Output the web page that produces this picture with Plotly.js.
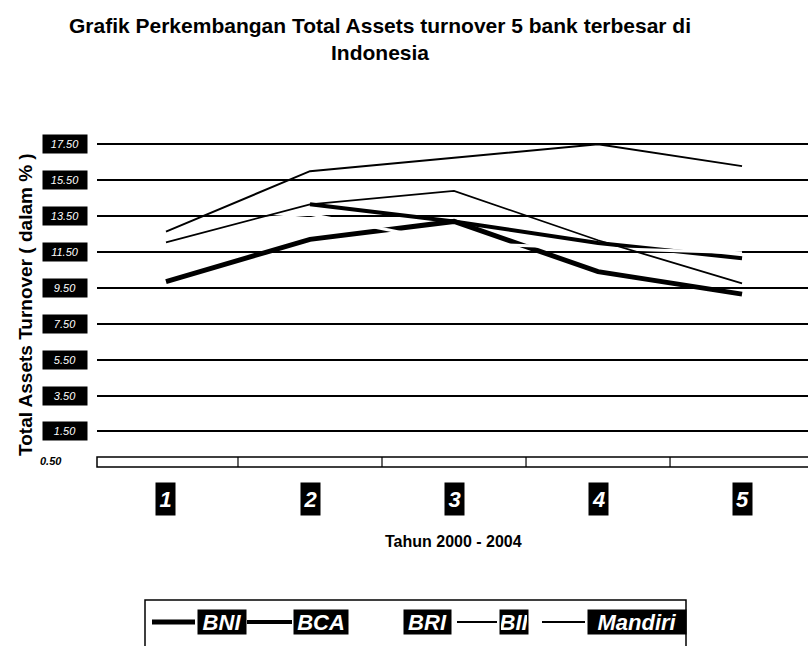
<!DOCTYPE html>
<html>
<head>
<meta charset="utf-8">
<script src="https://cdn.plot.ly/plotly-3.0.1.min.js"></script>
<style>html,body{margin:0;padding:0;background:#fff;}#chart{width:808px;height:646px;}</style>
</head>
<body>
<div id="chart"></div>
<script>
// ---- data ----
const years = [1, 2, 3, 4, 5];
const bni = [9.85, 12.2, 13.2, 10.4, 9.15];
const bca = [null, 14.15, 13.2, 12.0, 11.15];
const bri = [12.9, 13.6, 12.0, 11.7, 11.45];
const bii = [12.03, 14.15, 14.9, 12.15, 9.75];
const mandiri = [12.63, 16.0, 16.75, 17.5, 16.28];
const seriesNames = ['BNI', 'BCA', 'BRI', 'BII', 'Mandiri'];
const yTicks = [1.5, 3.5, 5.5, 7.5, 9.5, 11.5, 13.5, 15.5, 17.5];
const floorLabel = '0.50';
const xTitle = 'Tahun 2000 - 2004';
const yTitle = 'Total Assets Turnover ( dalam % )';
const chartTitle = 'Grafik Perkembangan Total Assets turnover 5 bank terbesar di<br>Indonesia';

// ---- styles ----
const NARROW = 'Liberation Sans Narrow, Arial Narrow, Liberation Sans, Arial, sans-serif';
const SANS = 'Liberation Sans, Arial, sans-serif';
const lineStyles = [
  {color: '#000', width: 5},
  {color: '#000', width: 4},
  {color: '#fff', width: 3},
  {color: '#000', width: 1.8},
  {color: '#000', width: 2}
];
const allSeries = [bni, bca, bri, bii, mandiri];

const traces = allSeries.map((vals, i) => ({
  type: 'scatter', mode: 'lines', x: years, y: vals, name: seriesNames[i],
  line: lineStyles[i], connectgaps: false, showlegend: false, hoverinfo: 'skip'
}));

// plot area geometry (pixels)
const L = 97, R = 0, T = 120, B = 176, W = 808 - L - R, H = 646 - T - B;
const px = v => (v - L) / W;          // pixel x -> paper
const py = v => (646 - B - v) / H;    // pixel y -> paper

const annotations = [];
const shapes = [];

// y tick labels (white on black boxes)
yTicks.forEach(t => annotations.push({
  xref: 'paper', yref: 'y', x: px(88), y: t, xanchor: 'right', yanchor: 'middle',
  text: t.toFixed(2), showarrow: false, bgcolor: '#000', width: 42, height: 16,
  font: {family: SANS, size: 11, color: '#fff', style: 'italic'}
}));
annotations.push({
  xref: 'paper', yref: 'y', x: px(64), y: -0.15, xanchor: 'right', yanchor: 'middle',
  text: floorLabel, showarrow: false,
  font: {family: SANS, size: 11, color: '#000', weight: 'bold', style: 'italic'}
});

// x category labels
years.forEach(c => annotations.push({
  xref: 'x', yref: 'paper', x: c, y: py(499), xanchor: 'center', yanchor: 'middle',
  text: String(c), showarrow: false, bgcolor: '#000', width: 17, height: 30,
  font: {family: NARROW, size: 22, color: '#fff', weight: 'bold', style: 'italic'}
}));

// axis titles
annotations.push({
  xref: 'paper', yref: 'paper', x: px(453), y: py(541), xanchor: 'center', yanchor: 'middle',
  text: xTitle, showarrow: false,
  font: {family: NARROW, size: 16, color: '#000', weight: 'bold'}
});
annotations.push({
  xref: 'paper', yref: 'paper', x: px(25), y: py(305), xanchor: 'center', yanchor: 'middle',
  text: yTitle, showarrow: false, textangle: -90,
  font: {family: SANS, size: 19, color: '#000', weight: 'bold'}
});

// floor (3-D base strip) with dividers between categories
shapes.push({type: 'rect', xref: 'paper', yref: 'y', x0: 0, x1: 1.01, y0: -0.48, y1: 0.07,
  line: {color: '#000', width: 1.5}, fillcolor: '#fff', layer: 'above'});
years.slice(0, -1).forEach(c => shapes.push({
  type: 'line', xref: 'x', yref: 'y', x0: c + 0.5, x1: c + 0.5, y0: -0.48, y1: 0.07,
  line: {color: '#000', width: 1.2}, layer: 'above'
}));

// custom legend (labels on black boxes)
const legendItems = [
  {line: [152, 195], box: [197, 243]},
  {line: [247, 292], box: [293, 345]},
  {line: null,       box: [403, 448]},
  {line: [457, 497], box: [499, 525]},
  {line: [542, 585], box: [587, 683]}
];
const legY = 622;
shapes.push({type: 'rect', xref: 'paper', yref: 'paper', x0: px(145), x1: px(686), y0: py(600), y1: py(670),
  line: {color: '#000', width: 1.5}, fillcolor: 'rgba(0,0,0,0)'});
legendItems.forEach((it, i) => {
  if (it.line) shapes.push({type: 'line', xref: 'paper', yref: 'paper',
    x0: px(it.line[0]), x1: px(it.line[1]), y0: py(legY), y1: py(legY),
    line: {color: lineStyles[i].color, width: lineStyles[i].width}});
  annotations.push({
    xref: 'paper', yref: 'paper', x: px(it.box[0]), y: py(legY), xanchor: 'left', yanchor: 'middle',
    text: seriesNames[i], showarrow: false, bgcolor: '#000', width: it.box[1] - it.box[0], height: 22,
    font: {family: NARROW, size: 22, color: '#fff', weight: 'bold', style: 'italic'}
  });
});

const layout = {
  width: 808, height: 646,
  margin: {l: L, r: R, t: T, b: B, pad: 0},
  paper_bgcolor: '#fff', plot_bgcolor: '#fff',
  title: {text: chartTitle, x: 380 / 808, xref: 'container', xanchor: 'center',
    y: 1 - 33 / 646, yref: 'container', yanchor: 'top',
    font: {family: NARROW, size: 21, color: '#000', weight: 'bold'}},
  xaxis: {range: [0.521, 5.458], showgrid: false, zeroline: false, showticklabels: false,
    showline: false, ticks: '', fixedrange: true},
  yaxis: {range: [-0.65, 18.85], tickvals: yTicks, showgrid: true, gridcolor: '#000', gridwidth: 2,
    zeroline: false, showticklabels: false, showline: false, ticks: '', fixedrange: true},
  showlegend: false,
  annotations: annotations,
  shapes: shapes
};

Plotly.newPlot('chart', traces, layout, {displayModeBar: false, staticPlot: true});
</script>
</body>
</html>
